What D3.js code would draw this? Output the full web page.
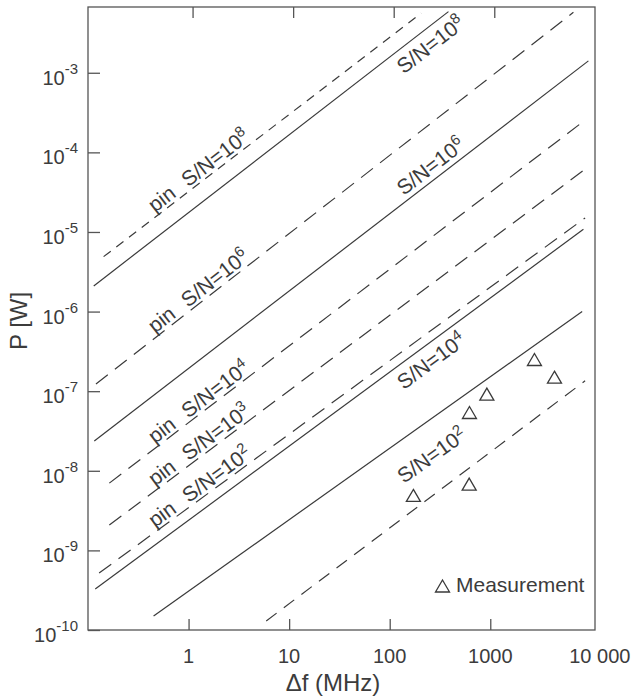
<!DOCTYPE html>
<html>
<head>
<meta charset="utf-8">
<script src="https://cdn.jsdelivr.net/npm/d3@7"></script>
<style>
  body { margin: 0; background: #fff; }
  svg text { font-family: "Liberation Sans", Arial, sans-serif; fill: #3c3c3c; }
</style>
</head>
<body>
<svg width="632" height="700"></svg>
<script>
// axis ticks
var xTicks = [1, 10, 100, 1000, 10000];
var xTickLabels = ["1", "10", "100", "1000", "10 000"];
var yTicks = [1e-10, 1e-9, 1e-8, 1e-7, 1e-6, 1e-5, 1e-4, 1e-3];
var yTickExp = ["-10", "-9", "-8", "-7", "-6", "-5", "-4", "-3"];

// lines (start / end in MHz and W)
var lineKind = ["pinShort", "solid", "pin", "solid", "pin", "pin", "pin", "solid", "solid", "limit"];
var lineStartX = [0.143, 0.114, 0.120, 0.1155, 0.163, 0.163, 0.129, 0.118, 0.449, 5.92];
var lineStartP = [4.9e-6, 2.1e-6, 1.23e-7, 2.37e-8, 7.0e-9, 2.08e-9, 5.2e-10, 3.27e-10, 1.5e-10, 1.3e-10];
var lineEndX = [206, 384, 6710, 9460, 7830, 9400, 8770, 8440, 8200, 8770];
var lineEndP = [5.6e-3, 5.86e-3, 5.75e-3, 1.41e-3, 2.28e-4, 6.56e-5, 1.5e-5, 1.08e-5, 1.0e-6, 1.35e-7];

// line labels (baseline start of each label, MHz / W)
var labelLine = [0, 1, 2, 3, 4, 5, 6, 7, 8];
var labelPin = [true, false, true, false, true, true, true, false, false];
var labelExp = ["8", "8", "6", "6", "4", "3", "2", "4", "2"];
var labelX = [0.463, 138, 0.463, 138, 0.463, 0.463, 0.463, 138, 138];
var labelP = [1.73e-5, 9.5e-4, 5.27e-7, 2.83e-5, 2.16e-8, 6.34e-9, 1.91e-9, 1.03e-7, 6.8e-9];

// measurements
var measX = [172, 617, 621, 925, 2750, 4350];
var measP = [4.9e-9, 6.8e-9, 5.4e-8, 9.2e-8, 2.5e-7, 1.5e-7];

var dashes = { pinShort: "9,7", solid: null, pin: "15,9", limit: "13,9" };
var ink = "#3a3a3a";

var svg = d3.select("svg");
var plotLeft = 88, plotRight = 595, plotTop = 7, plotBottom = 630;

var x = d3.scaleLog().domain([0.1, 11000]).range([plotLeft, plotRight]);
var y = d3.scaleLog().domain([1e-10, 6.7e-3]).range([plotBottom, plotTop]);

// frame
svg.append("rect")
  .attr("x", plotLeft).attr("y", plotTop)
  .attr("width", plotRight - plotLeft).attr("height", plotBottom - plotTop)
  .attr("fill", "none").attr("stroke", "#555").attr("stroke-width", 1.3);

// bottom axis
var xAxis = svg.append("g")
  .attr("transform", "translate(0," + plotBottom + ")")
  .call(d3.axisBottom(x).tickValues(xTicks.slice(0, 4)).tickSizeInner(-11).tickSizeOuter(0).tickFormat(""));
xAxis.select(".domain").remove();
xAxis.selectAll("line").attr("stroke", "#555").attr("stroke-width", 1.3);

svg.selectAll("text.xlab")
  .data(xTicks)
  .enter()
  .append("text")
  .attr("class", "xlab")
  .attr("x", function (d, i) { return i === 4 ? x(d) + 9 : x(d); })
  .attr("y", 663)
  .attr("text-anchor", "middle")
  .style("font-size", "20px")
  .text(function (d, i) { return xTickLabels[i]; });

// top ticks (slightly shifted in the original)
var xTop = svg.append("g")
  .attr("transform", "translate(4," + plotTop + ")")
  .call(d3.axisTop(x).tickValues(xTicks.slice(0, 4)).tickSizeInner(-11).tickSizeOuter(0).tickFormat(""));
xTop.select(".domain").remove();
xTop.selectAll("line").attr("stroke", "#555").attr("stroke-width", 1.3);

// left axis
var yAxis = svg.append("g")
  .attr("transform", "translate(" + plotLeft + ",0)")
  .call(d3.axisLeft(y).tickValues(yTicks).tickSizeInner(-12).tickSizeOuter(0).tickFormat(""));
yAxis.select(".domain").remove();
yAxis.selectAll("line").attr("stroke", "#555").attr("stroke-width", 1.3);

var ylab = svg.selectAll("text.ylab")
  .data(yTicks)
  .enter()
  .append("text")
  .attr("class", "ylab")
  .attr("x", 78)
  .attr("y", function (d) { return y(d) + 12; })
  .attr("text-anchor", "end")
  .style("font-size", "20px");
ylab.append("tspan").text("10");
ylab.append("tspan")
  .attr("dy", -11)
  .style("font-size", "15px")
  .text(function (d, i) { return yTickExp[i]; });

// axis titles
svg.append("text")
  .attr("x", 333).attr("y", 691)
  .attr("text-anchor", "middle")
  .style("font-size", "24px")
  .text("\u0394f (MHz)");

svg.append("text")
  .attr("transform", "translate(27,321) rotate(-90)")
  .attr("text-anchor", "middle")
  .style("font-size", "24px")
  .text("P [W]");

// lines
var lines = lineKind.map(function (k, i) {
  return { kind: k, pts: [[lineStartX[i], lineStartP[i]], [lineEndX[i], lineEndP[i]]] };
});

var path = d3.line()
  .x(function (d) { return x(d[0]); })
  .y(function (d) { return y(d[1]); });

svg.append("g")
  .selectAll("path")
  .data(lines)
  .enter()
  .append("path")
  .attr("d", function (d) { return path(d.pts); })
  .attr("fill", "none")
  .attr("stroke", ink)
  .attr("stroke-width", 1.2)
  .attr("stroke-dasharray", function (d) { return dashes[d.kind]; });

function angleOf(l) {
  var a = l.pts[0], b = l.pts[1];
  return Math.atan2(y(b[1]) - y(a[1]), x(b[0]) - x(a[0])) * 180 / Math.PI;
}

// labels along the lines
var labels = svg.append("g")
  .selectAll("text")
  .data(labelLine)
  .enter()
  .append("text")
  .attr("transform", function (d, i) {
    return "translate(" + x(labelX[i]) + "," + y(labelP[i]) + ") rotate(" + angleOf(lines[d]) + ")";
  })
  .style("font-size", "21px");

labels.each(function (d, i) {
  var t = d3.select(this);
  if (labelPin[i]) {
    t.append("tspan").text("pin");
    t.append("tspan").attr("dx", 14).text("S/N=10");
  } else {
    t.append("tspan").text("S/N=10");
  }
  t.append("tspan").attr("dy", -8).style("font-size", "15px").text(labelExp[i]);
});

// measured points
var tri = "M0,-6L7,6L-7,6Z";
svg.append("g")
  .selectAll("path")
  .data(measX)
  .enter()
  .append("path")
  .attr("d", tri)
  .attr("transform", function (d, i) { return "translate(" + x(d) + "," + y(measP[i]) + ")"; })
  .attr("fill", "none")
  .attr("stroke", ink)
  .attr("stroke-width", 1.3);

// legend
svg.append("path")
  .attr("d", tri)
  .attr("transform", "translate(442.5,586)")
  .attr("fill", "none")
  .attr("stroke", ink)
  .attr("stroke-width", 1.3);
svg.append("text")
  .attr("x", 456).attr("y", 592)
  .style("font-size", "21px")
  .text("Measurement");
</script>
</body>
</html>
